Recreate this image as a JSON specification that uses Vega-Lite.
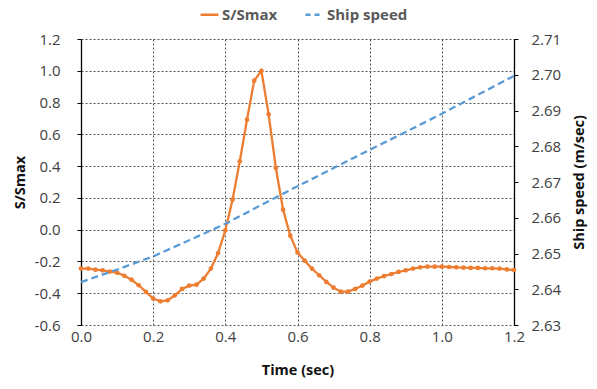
{
  "$schema": "https://vega.github.io/schema/vega-lite/v6.json",
  "width": 433,
  "height": 286,
  "autosize": {"type": "none"},
  "padding": {"left": 81, "top": 39, "right": 83, "bottom": 64},
  "background": "white",
  "config": {
    "font": "Open Sans",
    "view": {"stroke": null},
    "axis": {"labelFont": "Open Sans", "titleFont": "Open Sans", "labelFontSize": 15, "titleFontSize": 14.5, "labelColor": "#404040", "titleColor": "#111111", "titleFontWeight": "bold", "labelFlush": false}
  },
  "datasets": {
    "smax": [
      {"t": 0.00, "v": -0.245}, {"t": 0.02, "v": -0.245}, {"t": 0.04, "v": -0.252}, {"t": 0.06, "v": -0.256},
      {"t": 0.08, "v": -0.264}, {"t": 0.10, "v": -0.271}, {"t": 0.12, "v": -0.290}, {"t": 0.14, "v": -0.315},
      {"t": 0.16, "v": -0.350}, {"t": 0.18, "v": -0.392}, {"t": 0.20, "v": -0.434}, {"t": 0.22, "v": -0.451},
      {"t": 0.24, "v": -0.445}, {"t": 0.26, "v": -0.413}, {"t": 0.28, "v": -0.373}, {"t": 0.30, "v": -0.352},
      {"t": 0.32, "v": -0.346}, {"t": 0.34, "v": -0.308}, {"t": 0.36, "v": -0.245}, {"t": 0.38, "v": -0.147},
      {"t": 0.40, "v": -0.004}, {"t": 0.42, "v": 0.189}, {"t": 0.44, "v": 0.430}, {"t": 0.46, "v": 0.692},
      {"t": 0.48, "v": 0.938}, {"t": 0.50, "v": 1.000}, {"t": 0.52, "v": 0.726}, {"t": 0.54, "v": 0.388},
      {"t": 0.56, "v": 0.126}, {"t": 0.58, "v": -0.038}, {"t": 0.60, "v": -0.143}, {"t": 0.62, "v": -0.195},
      {"t": 0.64, "v": -0.245}, {"t": 0.66, "v": -0.287}, {"t": 0.68, "v": -0.329}, {"t": 0.70, "v": -0.365},
      {"t": 0.72, "v": -0.390}, {"t": 0.74, "v": -0.390}, {"t": 0.76, "v": -0.373}, {"t": 0.78, "v": -0.352},
      {"t": 0.80, "v": -0.327}, {"t": 0.82, "v": -0.308}, {"t": 0.84, "v": -0.292}, {"t": 0.86, "v": -0.279},
      {"t": 0.88, "v": -0.266}, {"t": 0.90, "v": -0.256}, {"t": 0.92, "v": -0.245}, {"t": 0.94, "v": -0.237},
      {"t": 0.96, "v": -0.233}, {"t": 0.98, "v": -0.233}, {"t": 1.00, "v": -0.233}, {"t": 1.02, "v": -0.235},
      {"t": 1.04, "v": -0.237}, {"t": 1.06, "v": -0.239}, {"t": 1.08, "v": -0.241}, {"t": 1.10, "v": -0.241},
      {"t": 1.12, "v": -0.243}, {"t": 1.14, "v": -0.243}, {"t": 1.16, "v": -0.245}, {"t": 1.18, "v": -0.250},
      {"t": 1.20, "v": -0.254}
    ],
    "speed": [
      {"t": 0.0, "v": 2.6420}, {"t": 0.1, "v": 2.6455}, {"t": 0.2, "v": 2.6492}, {"t": 0.3, "v": 2.6537},
      {"t": 0.4, "v": 2.6583}, {"t": 0.5, "v": 2.6636}, {"t": 0.6, "v": 2.6688}, {"t": 0.7, "v": 2.6739},
      {"t": 0.8, "v": 2.6790}, {"t": 0.9, "v": 2.6840}, {"t": 1.0, "v": 2.6891}, {"t": 1.1, "v": 2.6944},
      {"t": 1.2, "v": 2.6997}
    ],
    "zero": [{"v": 0}]
  },
  "encoding": {
    "x": {
      "field": "t", "type": "quantitative",
      "scale": {"domain": [0, 1.2], "nice": false},
      "axis": {
        "title": "Time (sec)", "values": [0, 0.2, 0.4, 0.6, 0.8, 1.0, 1.2], "format": ".1f",
        "domain": false, "ticks": false, "labelPadding": 4, "titlePadding": 19,
        "grid": true, "gridDash": [2, 2], "gridColor": "#555555", "gridWidth": 1
      }
    }
  },
  "layer": [
    {
      "data": {"name": "zero"},
      "mark": {"type": "rule", "color": "black", "strokeWidth": 1.3},
      "encoding": {
        "x": {"datum": 0},
        "x2": {"datum": 1.2},
        "y": {"field": "v", "type": "quantitative", "scale": {"domain": [-0.6, 1.2], "nice": false}, "axis": null}
      }
    },
    {
      "data": {"name": "smax"},
      "mark": {"type": "line", "strokeWidth": 2.3, "point": {"filled": true, "size": 22}},
      "encoding": {
        "y": {
          "field": "v", "type": "quantitative",
          "scale": {"domain": [-0.6, 1.2], "nice": false},
          "axis": {
            "title": "S/Smax", "orient": "left", "values": [-0.6, -0.4, -0.2, 0, 0.2, 0.4, 0.6, 0.8, 1.0, 1.2],
            "labelExpr": "replace(format(datum.value, '.1f'), '\u2212', '-')",
            "domain": true, "domainColor": "black", "domainWidth": 1.3, "ticks": true, "tickColor": "black", "tickSize": 4,
            "labelPadding": 17, "titlePadding": 7,
            "grid": true, "gridDash": [2, 2], "gridColor": "#555555", "gridWidth": 1
          }
        },
        "color": {
          "datum": "S/Smax", "type": "nominal",
          "scale": {"domain": ["S/Smax", "Ship speed"], "range": ["#ED7D31", "#5B9BD5"]},
          "legend": {
            "orient": "none", "legendX": 118, "legendY": -35, "direction": "horizontal", "title": null,
            "symbolType": "stroke", "symbolSize": 320, "symbolStrokeWidth": 2.3,
            "labelFont": "Open Sans", "labelFontSize": 15, "labelFontWeight": "bold", "labelColor": "#595959",
            "columnPadding": 22, "labelOffset": 2,
            "encode": {"symbols": {"update": {"strokeDash": {"signal": "datum.value === 'Ship speed' ? [5, 4] : [1, 0]"}}}}
          }
        }
      }
    },
    {
      "data": {"name": "speed"},
      "mark": {"type": "line", "strokeWidth": 2.3, "strokeDash": [7, 4]},
      "encoding": {
        "y": {
          "field": "v", "type": "quantitative",
          "scale": {"domain": [2.63, 2.71], "nice": false, "zero": false},
          "axis": {
            "title": "Ship speed (m/sec)", "orient": "right", "titleAngle": -90, "titleBaseline": "top",
            "values": [2.63, 2.64, 2.65, 2.66, 2.67, 2.68, 2.69, 2.70, 2.71], "format": ".2f",
            "domain": true, "domainColor": "black", "domainWidth": 1.3, "ticks": true, "tickColor": "black", "tickSize": 4,
            "labelPadding": 13, "titlePadding": 12, "grid": false
          }
        },
        "color": {"datum": "Ship speed", "type": "nominal"}
      }
    }
  ],
  "resolve": {"scale": {"y": "independent"}, "axis": {"y": "independent"}}
}
